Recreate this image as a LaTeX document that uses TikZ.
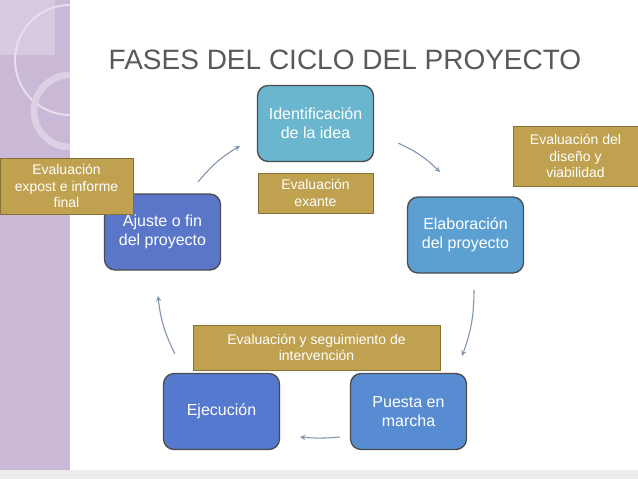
\documentclass[tikz,border=0pt]{standalone}
\usepackage{fontspec}
\setmainfont{Liberation Sans}
\begin{document}
\begin{tikzpicture}[x=0.75pt,y=-0.75pt,
 phase/.style={draw=black!70,line width=1pt,rounded corners=8pt,text=white,align=center,font=\fontsize{12}{14}\selectfont,minimum width=87pt,minimum height=57pt},
 evalbox/.style={fill=gold,draw=gold!70!black,text=white,align=center,font=\fontsize{10.5}{12.5}\selectfont,inner sep=2pt},
 cyc/.style={draw=arrowc,line width=0.8pt,-stealth}]
\definecolor{gold}{HTML}{BFA14F}
\definecolor{arrowc}{HTML}{7F93B0}
\definecolor{strip}{HTML}{C9B8D6}
\useasboundingbox (0,0) rectangle (638,479);
\fill[white] (0,0) rectangle (638,479);
\fill[strip] (0,0) rectangle (70,479);
\fill[white!25!strip] (0,0) rectangle (55,55);
\draw[white!55!strip,line width=1.5pt] (70,5) arc[start angle=270,end angle=90,radius=55];
\draw[white!35!strip,line width=5pt] (70,75) arc[start angle=270,end angle=90,radius=36];
\fill[gray!15] (0,470) rectangle (638,479);
\node[text=black!65,font=\fontsize{21}{24}\selectfont] (title) at (345,60) {FASES DEL CICLO DEL PROYECTO};
\node[phase,fill={rgb,255:red,106;green,182;blue,207}] (ident) at (315.5,123.5) {Identificación\\de la idea};
\node[phase,fill={rgb,255:red,92;green,160;blue,210}] (elab) at (465.5,235) {Elaboración\\del proyecto};
\node[phase,fill={rgb,255:red,88;green,140;blue,210}] (puesta) at (408.5,411.5) {Puesta en\\marcha};
\node[phase,fill={rgb,255:red,84;green,121;blue,207}] (ejec) at (221.5,411.5) {Ejecución};
\node[phase,fill={rgb,255:red,90;green,118;blue,201}] (ajuste) at (162.5,232) {Ajuste o fin\\del proyecto};
\node[evalbox,minimum width=86pt,minimum height=30pt] (exante) at (315.5,193) {Evaluación\\exante};
\node[evalbox,minimum width=94pt,minimum height=45pt] (diseno) at (575.5,156) {Evaluación del\\diseño y\\viabilidad};
\node[evalbox,minimum width=100pt,minimum height=42pt] (expost) at (66.5,186) {Evaluación\\expost e informe\\final};
\node[evalbox,minimum width=185pt,minimum height=34pt] (seg) at (316.5,347.5) {Evaluación y seguimiento de\\intervención};
\coordinate (a1) at (198,182); \coordinate (b1) at (240,146);
\coordinate (a2) at (398,143); \coordinate (b2) at (440,172);
\coordinate (a3) at (474,290); \coordinate (b3) at (462,356);
\coordinate (a4) at (340,437); \coordinate (b4) at (300,437);
\coordinate (a5) at (175,354); \coordinate (b5) at (158,296);
\draw[cyc] (a1) to[bend left=10] (b1);
\draw[cyc] (a2) to[bend left=10] (b2);
\draw[cyc] (a3) to[bend left=10] (b3);
\draw[cyc] (a4) to[bend left=5] (b4);
\draw[cyc] (a5) to[bend left=10] (b5);
\end{tikzpicture}
\end{document}
